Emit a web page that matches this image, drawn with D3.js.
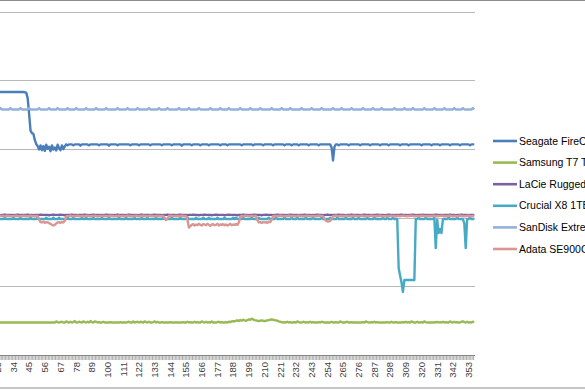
<!DOCTYPE html>
<html>
<head>
<meta charset="utf-8">
<script src="https://cdn.jsdelivr.net/npm/d3@7"></script>
<style>
  html, body { margin: 0; padding: 0; background: #fff; overflow: hidden; }
  svg { display: block; font-family: "Liberation Sans", Arial, sans-serif; }
</style>
</head>
<body>
<script>
// Series names (legend is cut off at the right edge in the source)
const drives = ["Seagate FireCuda Gaming SSD", "Samsung T7 Touch", "LaCie Rugged SSD Pro",
                "Crucial X8 1TB", "SanDisk Extreme Pro", "Adata SE900G"];

// one value per category (1..357), 21 per row
const seagate = [
  768,768,768,768,768,768,768,768,768,768,768,768,768,768,768,768,768,768,768,768,768,
  768,768,768,768,768,768,768,768,768,768,768,768,768,768,768,768,768,768,768,768,767,
  766,750,705,655,648,646,628,616,610,600,612,598,610,596,614,602,608,595,612,600,606,
  597,614,604,598,612,601,609,615,612,615,615,615,612,615,615,615,615,611,615,615,615,
  615,615,612,615,615,615,615,615,615,612,615,615,615,615,615,615,611,615,615,615,615,
  615,612,615,615,615,615,615,615,615,615,612,615,615,615,615,615,612,615,615,615,615,
  615,615,615,612,615,615,615,615,615,615,615,612,615,615,615,615,615,615,612,615,615,
  615,615,615,615,611,615,615,615,615,615,615,612,615,615,615,615,615,612,615,615,615,
  615,615,612,615,615,615,615,615,615,615,612,615,615,615,615,612,615,615,615,615,615,
  615,615,615,615,612,615,615,615,615,615,615,615,612,615,615,615,615,615,615,612,615,
  615,615,615,615,615,612,615,615,615,615,615,615,615,612,615,615,615,615,612,615,615,
  615,615,612,615,615,615,615,615,615,612,615,615,615,615,615,615,612,615,615,615,615,
  615,615,615,615,606,568,608,615,615,612,615,615,615,615,615,615,612,615,615,615,615,
  615,615,615,612,615,615,615,615,615,615,612,615,615,615,615,615,615,612,615,615,615,
  615,615,612,615,615,615,615,615,615,615,612,615,615,615,615,615,612,615,615,615,615,
  615,615,615,615,612,615,615,615,615,615,615,612,615,615,615,615,615,612,615,615,615,
  615,615,615,612,615,615,615,615,615,615,612,615,615,615,615,615,615,612,615,615,615
];

const samsung = [
  95,95,95,95,95,95,95,95,95,95,95,95,95,95,95,95,95,95,95,95,95,
  95,95,95,95,95,95,95,95,95,95,95,95,95,95,95,95,95,95,95,95,95,
  95,95,95,95,95,95,95,95,95,95,95,95,95,95,95,95,95,95,95,95,95,
  98,96,95,96,97,95,95,98,96,95,97,95,96,99,95,95,97,96,95,98,96,
  95,97,95,99,96,95,98,97,95,96,95,95,97,95,95,95,95,96,95,95,95,
  95,95,95,96,95,95,95,95,96,97,95,95,98,95,96,97,95,97,96,95,98,
  96,95,97,95,95,96,98,95,97,95,95,96,95,95,95,95,95,96,95,95,95,
  95,95,95,95,95,96,95,95,97,95,96,95,95,97,95,96,95,95,98,96,95,
  97,95,96,95,98,95,95,95,96,97,95,96,95,95,96,95,97,96,98,99,98,
  100,101,99,102,100,103,101,100,102,104,103,106,104,102,101,100,99,100,101,100,99,
  100,101,102,103,104,103,102,101,100,98,97,96,95,96,95,97,95,96,95,95,96,
  95,98,96,95,95,97,96,95,96,95,97,95,96,95,95,95,96,95,97,96,95,
  95,95,95,95,97,95,95,96,95,95,98,96,95,95,96,97,95,95,96,95,95,
  95,95,95,95,95,96,95,98,96,95,95,96,95,97,95,96,95,95,95,95,95,
  95,96,95,95,97,95,95,96,95,95,95,95,96,95,97,95,96,95,98,96,95,
  95,97,95,95,96,95,98,96,95,95,95,95,95,96,95,97,95,96,95,97,95,
  96,95,95,98,96,95,97,95,96,95,95,97,98,96,95,97,95,96,95,97,96
];

const lacie = [
  409,409,410,409,409,409,408,409,409,409,410,409,409,409,409,408,409,409,409,410,409,
  409,409,409,408,409,409,410,409,409,409,409,409,408,409,409,410,409,409,409,409,409,
  409,410,409,409,409,408,409,409,409,409,410,409,409,409,409,409,408,409,409,410,409,
  409,409,409,410,409,409,408,409,409,409,409,410,409,409,409,408,409,409,409,409,410,
  409,409,408,409,409,410,409,409,409,409,409,408,409,409,410,409,409,409,409,408,409,
  409,410,409,409,409,409,408,409,409,410,409,409,409,409,409,408,409,409,410,409,409,
  409,409,409,408,409,409,410,409,409,409,409,408,409,409,409,410,409,409,409,409,409,
  408,409,409,410,409,409,409,409,408,409,409,409,410,409,409,409,408,409,409,409,410,
  409,409,409,409,408,409,409,410,409,409,409,409,409,408,409,409,410,409,409,409,409,
  409,408,409,409,409,410,409,409,409,408,409,409,409,410,409,409,409,409,408,409,409,
  410,409,409,409,409,408,409,409,410,409,409,409,409,409,408,409,409,410,409,409,409,
  409,409,408,409,409,409,410,409,409,409,409,408,409,409,409,410,409,409,409,408,409,
  409,410,409,409,409,408,409,409,409,410,409,409,409,409,408,409,409,409,410,409,409,
  409,409,409,408,409,409,410,409,409,409,409,408,409,409,409,410,409,409,409,409,408,
  409,409,410,409,409,409,408,409,409,409,409,410,409,409,409,408,409,409,409,410,409,
  409,408,409,409,409,410,409,409,409,409,408,409,409,409,410,409,409,409,409,408,409,
  409,409,409,410,409,409,409,408,409,409,409,410,409,409,409,409,408,409,409,409,409
];

const crucial = [
  397,397,401,397,397,397,397,401,397,397,397,397,397,401,397,397,397,397,401,397,397,
  397,401,397,397,397,397,401,397,397,397,397,397,401,397,397,397,397,401,397,397,397,
  397,397,397,401,397,397,397,397,401,397,397,397,397,397,401,397,397,397,397,401,397,
  397,397,401,397,397,397,397,397,401,397,397,397,401,397,397,397,397,397,401,397,397,
  401,397,397,397,397,401,397,397,397,397,397,401,397,397,397,397,401,397,397,397,397,
  397,397,401,397,397,397,397,401,397,397,397,397,397,401,397,397,397,397,401,397,397,
  397,401,397,397,397,397,397,401,397,397,397,397,401,397,397,397,397,397,401,397,397,
  397,397,397,401,397,397,397,397,401,397,397,397,397,397,401,397,397,397,397,401,397,
  397,397,401,397,397,397,397,397,401,397,397,397,397,401,397,397,397,397,397,401,397,
  401,397,397,397,397,401,397,397,397,397,397,401,397,397,397,397,401,397,397,397,397,
  397,397,401,397,397,397,397,401,397,397,397,397,397,401,397,397,397,397,401,397,397,
  397,401,397,397,397,397,397,401,397,397,397,397,401,397,397,397,397,397,401,397,397,
  397,397,397,401,397,397,397,397,401,397,397,397,397,397,401,397,397,397,397,401,397,
  397,397,401,397,397,397,397,397,401,397,397,397,397,401,397,397,397,397,397,401,397,
  397,401,397,397,397,401,397,397,397,254,232,212,184,219,219,219,219,219,219,219,219,
  397,397,401,397,397,397,397,401,397,397,397,397,397,401,312,395,356,368,356,397,397,
  397,397,401,397,397,397,397,397,401,397,397,397,397,385,312,397,397,401,397,397,397
];

const sandisk = [
  717,717,717,721,717,717,717,717,717,717,721,717,717,717,717,717,717,721,717,717,717,
  717,717,717,721,717,717,717,717,717,717,721,717,717,717,717,717,717,721,717,717,717,
  717,717,721,717,717,717,717,717,717,721,717,717,717,717,717,717,721,717,717,717,717,
  717,721,717,717,717,717,717,717,721,717,717,717,717,717,721,717,717,717,717,717,717,
  721,717,717,717,717,717,717,721,717,717,717,717,717,717,721,717,717,717,717,717,717,
  717,721,717,717,717,717,717,717,721,717,717,717,717,717,717,721,717,717,717,717,717,
  717,717,721,717,717,717,717,717,717,721,717,717,717,717,717,721,717,717,717,717,717,
  717,717,721,717,717,717,717,717,717,721,717,717,717,717,717,717,721,717,717,717,717,
  717,717,717,721,717,717,717,717,717,717,721,717,717,717,717,717,721,717,717,717,717,
  717,717,717,721,717,717,717,717,717,717,721,717,717,717,717,717,717,721,717,717,717,
  717,717,717,717,721,717,717,717,717,717,717,721,717,717,717,717,717,721,717,717,717,
  717,717,717,717,721,717,717,717,717,717,717,721,717,717,717,717,717,717,721,717,717,
  717,717,717,717,717,721,717,717,717,717,717,721,717,717,717,717,717,717,721,717,717,
  717,717,717,717,717,721,717,717,717,717,717,717,721,717,717,717,717,717,721,717,717,
  717,717,717,717,717,717,721,717,717,717,717,717,717,721,717,717,717,717,717,721,717,
  717,717,717,717,717,717,721,717,717,717,717,717,717,721,717,717,717,717,717,717,721,
  717,717,717,717,717,717,721,717,717,717,717,717,721,717,717,717,717,717,717,721,717
];

const adata = [
  405,404,406,406,407,406,405,407,406,406,407,405,406,407,406,406,405,407,406,406,407,
  406,405,406,407,406,406,405,406,407,406,406,405,406,406,407,406,405,406,406,407,406,
  406,405,406,407,406,406,405,406,406,395,388,387,389,386,388,387,385,383,380,378,380,
  384,387,388,386,388,387,392,404,406,405,407,406,406,405,406,407,406,405,406,406,405,
  406,407,406,405,406,406,407,406,404,406,406,405,407,406,406,405,406,407,406,406,405,
  406,406,407,405,406,406,405,406,407,406,406,405,406,406,407,406,405,406,406,407,406,
  406,405,406,407,406,406,405,406,406,406,405,406,406,400,394,398,406,407,406,405,406,
  406,406,405,406,407,406,406,405,395,372,376,380,382,378,381,379,383,380,378,382,381,
  379,383,380,377,381,382,379,380,383,378,381,380,382,379,381,378,380,383,379,381,380,
  382,380,387,404,406,405,406,407,406,405,406,406,405,406,406,394,387,388,386,388,387,
  388,386,389,388,395,405,406,406,405,406,407,406,406,405,406,406,407,406,405,406,406,
  405,406,407,406,406,405,406,406,407,406,405,406,406,406,405,406,407,406,406,405,398,
  392,390,390,391,397,405,406,407,406,405,406,406,405,406,407,406,406,405,406,406,407,
  406,405,406,406,407,406,405,406,406,405,406,407,406,406,405,406,406,407,406,405,406,
  406,406,405,406,407,406,406,405,406,406,405,406,407,406,406,405,406,406,407,406,405,
  406,406,405,406,406,407,406,405,406,406,405,406,407,406,406,405,406,406,407,406,406,
  405,406,406,407,406,405,406,406,405,406,407,406,406,405,406,406,407,406,405,406,406
];

const tickLabels = [1,12,23,34,45,56,67,78,89,100,111,122,133,144,155,166,177,188,199,
                    210,221,232,243,254,265,276,287,298,309,320,331,342,353];
const yTicks = [0, 200, 400, 600, 800, 1000];

const colors = ["#4a7ebb", "#98b954", "#7d60a0", "#46aac5", "#93b1da", "#d99694"];
const seriesValues = [seagate, samsung, lacie, crucial, sandisk, adata];

const width = 585, height = 390;
// the picture is a crop: the plot's left edge and the value axis sit off screen
const plot = { left: -34.4, right: 475, top: 12.5, bottom: 355 };

const categories = d3.range(1, seagate.length + 1);

const svg = d3.select("body").append("svg")
    .attr("width", width)
    .attr("height", height);

// chart area border (only top and bottom edges are visible)
svg.append("rect")
    .attr("x", -100).attr("y", 0.5)
    .attr("width", 800).attr("height", 387.5)
    .attr("fill", "none")
    .attr("stroke", "#8c8c8c");

const x = d3.scaleBand()
    .domain(categories)
    .range([plot.left, plot.right]);

const y = d3.scaleLinear()
    .domain([0, 1000])
    .range([plot.bottom, plot.top]);

// horizontal gridlines
svg.append("g")
    .selectAll("line")
    .data(yTicks.slice(1))
    .join("line")
    .attr("x1", plot.left).attr("x2", plot.right)
    .attr("y1", d => Math.floor(y(d)) + 0.5)
    .attr("y2", d => Math.floor(y(d)) + 0.5)
    .attr("stroke", "#b8b8b8");

// x axis: tick mark at every category boundary
const xAxis = svg.append("g");
xAxis.selectAll("line.tick")
    .data(categories)
    .join("line")
    .attr("class", "tick")
    .attr("x1", d => x(d)).attr("x2", d => x(d))
    .attr("y1", plot.bottom).attr("y2", plot.bottom + 5)
    .attr("stroke", "#9a9a9a")
    .attr("stroke-width", 0.8);

xAxis.append("line")
    .attr("x1", plot.left).attr("x2", plot.right)
    .attr("y1", plot.bottom + 0.5).attr("y2", plot.bottom + 0.5)
    .attr("stroke", "#868686");

// labels left of the crop are not drawn
xAxis.selectAll("text")
    .data(tickLabels.filter(d => x(d) + x.bandwidth() / 2 > -8))
    .join("text")
    .attr("transform", d => `translate(${x(d) + x.bandwidth() / 2},${plot.bottom + 7}) rotate(-90)`)
    .attr("dy", "0.35em")
    .attr("text-anchor", "end")
    .attr("font-size", 9.5)
    .attr("fill", "#404040")
    .text(d => d);

// lines
const line = d3.line()
    .x((v, i) => x(categories[i]) + x.bandwidth() / 2)
    .y(v => y(v));

svg.append("g")
    .selectAll("path")
    .data(seriesValues)
    .join("path")
    .attr("d", d => line(d))
    .attr("fill", "none")
    .attr("stroke", (d, i) => colors[i])
    .attr("stroke-width", 2.4)
    .attr("stroke-linejoin", "round");

// legend
const legend = svg.append("g")
    .attr("transform", "translate(493,141)");

const item = legend.selectAll("g")
    .data(drives)
    .join("g")
    .attr("transform", (d, i) => `translate(0,${i * 21.6})`);

item.append("line")
    .attr("x1", 0).attr("x2", 24)
    .attr("stroke", (d, i) => colors[i])
    .attr("stroke-width", 2.6);

item.append("text")
    .attr("x", 26)
    .attr("dy", "0.35em")
    .attr("font-size", 10.5)
    .attr("fill", "#000")
    .text(d => d);
</script>
</body>
</html>
